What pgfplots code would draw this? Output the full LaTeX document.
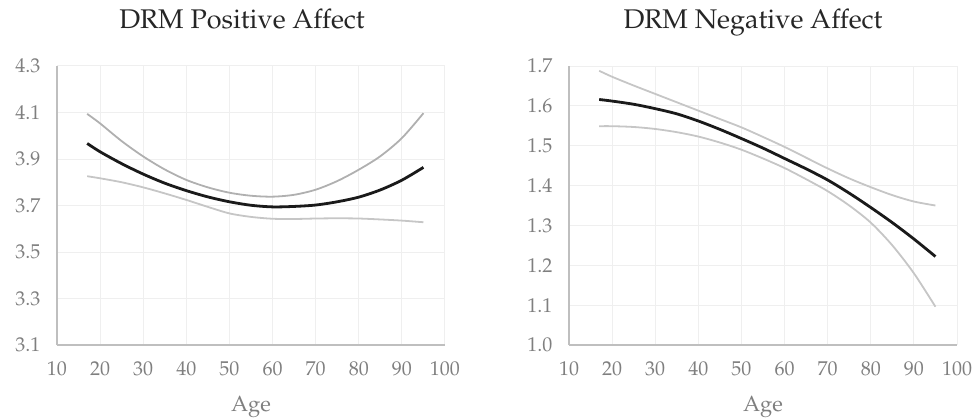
\documentclass[border=0pt]{standalone}
\usepackage[T1]{fontenc}
\usepackage{mathpazo}
\usepackage{pgfplots}
\pgfplotsset{compat=1.18}
\definecolor{gridgray}{HTML}{EFEFEF}
\definecolor{axisgray}{HTML}{BFBFBF}
\definecolor{tickgray}{HTML}{7F7F7F}
\definecolor{titlecol}{HTML}{262626}
\definecolor{ciupper}{HTML}{B0B0B0}
\definecolor{cilower}{HTML}{C6C6C6}
\definecolor{mainline}{HTML}{1A1A1A}
\pgfplotsset{
  drmaxis/.style={
    scale only axis, width=388pt, height=279pt,
    xmin=10, xmax=100,
    xtick={10,20,30,40,50,60,70,80,90,100},
    grid=major,
    major grid style={draw=gridgray, line width=1pt},
    axis x line*=bottom, axis y line*=left,
    axis line style={draw=axisgray, line width=1.3pt, -},
    major tick length=0pt,
    tick label style={font=\fontsize{20}{24}\selectfont, text=tickgray},
    /pgf/number format/assume math mode=true,
    yticklabel style={xshift=-13pt, /pgf/number format/.cd, fixed, fixed zerofill, precision=1},
    xticklabel style={yshift=-13.4pt},
    title style={at={(axis description cs:0.5,1)}, anchor=base, yshift=31.7pt, font=\fontsize{27}{32}\selectfont, text=titlecol},
    xlabel style={at={(axis description cs:0.5,-0.240)}, anchor=base, font=\fontsize{22}{26}\selectfont, text=tickgray},
    xlabel={Age},
  },
  main/.style={mainline, line width=2.8pt, smooth, no markers},
  ciu/.style={ciupper, line width=1.8pt, smooth, no markers},
  cil/.style={cilower, line width=1.8pt, smooth, no markers},
}
\begin{document}
\begin{tikzpicture}
\begin{axis}[drmaxis, at={(0pt,0pt)}, anchor=south west,
  ymin=3.1, ymax=4.3, ytick={3.1,3.3,3.5,3.7,3.9,4.1,4.3},
  title={DRM Positive Affect}, title style={xshift=-9pt}]
\addplot[cil] coordinates {(17,3.826) (20,3.817) (25,3.800) (30,3.778) (35,3.752) (40,3.724) (45,3.694) (50,3.666) (55,3.651) (60,3.643) (65,3.642) (70,3.644) (75,3.645) (80,3.644) (85,3.640) (90,3.635) (95,3.628)};
\addplot[ciu] coordinates {(17,4.094) (20,4.053) (25,3.977) (30,3.911) (35,3.855) (40,3.810) (45,3.778) (50,3.755) (55,3.742) (60,3.738) (65,3.746) (70,3.768) (75,3.805) (80,3.854) (85,3.912) (90,3.990) (95,4.097)};
\addplot[main] coordinates {(17,3.967) (20,3.931) (25,3.880) (30,3.835) (35,3.796) (40,3.764) (45,3.737) (50,3.716) (55,3.701) (60,3.694) (65,3.696) (70,3.702) (75,3.716) (80,3.736) (85,3.767) (90,3.809) (95,3.864)};
\end{axis}
\begin{axis}[drmaxis, at={(512pt,0pt)}, anchor=south west,
  ymin=1.0, ymax=1.7, ytick={1.0,1.1,1.2,1.3,1.4,1.5,1.6,1.7},
  title={DRM Negative Affect}, title style={xshift=-10pt}]
\addplot[cil] coordinates {(17,1.549) (20,1.549) (25,1.547) (30,1.542) (35,1.534) (40,1.523) (45,1.508) (50,1.490) (55,1.468) (60,1.444) (65,1.416) (70,1.386) (75,1.350) (80,1.307) (85,1.250) (90,1.180) (95,1.096)};
\addplot[cil] coordinates {(17,1.688) (20,1.673) (25,1.651) (30,1.630) (35,1.609) (40,1.588) (45,1.567) (50,1.546) (55,1.522) (60,1.497) (65,1.470) (70,1.443) (75,1.418) (80,1.396) (85,1.376) (90,1.360) (95,1.350)};
\addplot[main] coordinates {(17,1.616) (20,1.612) (25,1.604) (30,1.593) (35,1.580) (40,1.562) (45,1.541) (50,1.518) (55,1.494) (60,1.468) (65,1.442) (70,1.414) (75,1.381) (80,1.345) (85,1.307) (90,1.266) (95,1.222)};
\end{axis}
\pgfresetboundingbox
\path (-57pt,-73pt) rectangle (915pt,345pt);
\end{tikzpicture}
\end{document}
